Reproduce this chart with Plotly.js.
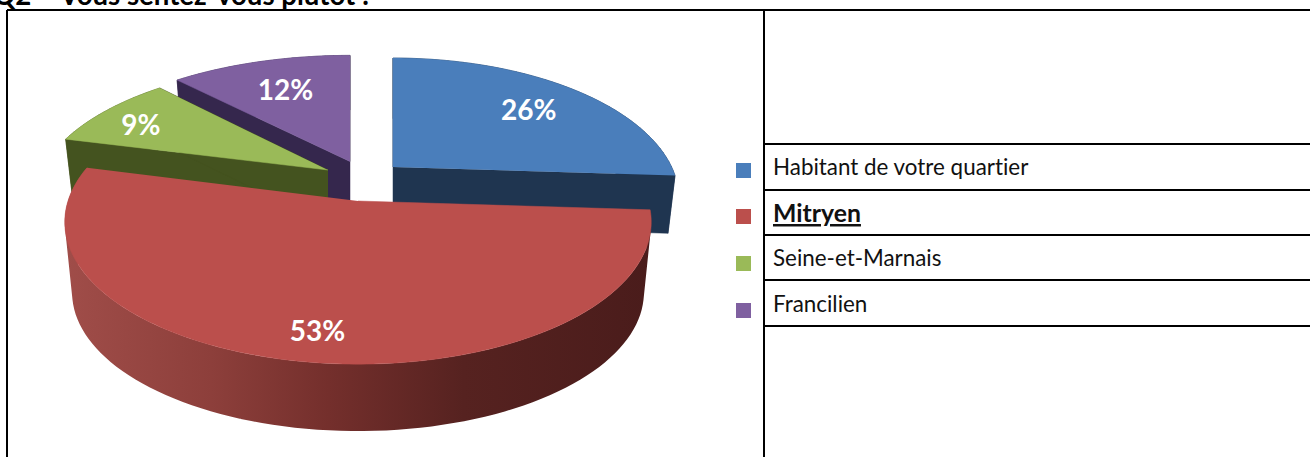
<!DOCTYPE html>
<html><head><meta charset="utf-8">
<script src="https://cdn.plot.ly/plotly-3.0.1.min.js"></script>
<style>html,body{margin:0;padding:0;background:#fff;overflow:hidden}
text{font-variant-ligatures:none;font-feature-settings:"liga" 0,"clig" 0}</style>
</head><body><div id="chart" style="width:1310px;height:457px"></div>
<script>
const categories = ['Habitant de votre quartier', 'Mitryen', 'Seine-et-Marnais', 'Francilien'];
const values = [26, 53, 9, 12];
const percentLabels = ['26%', '53%', '9%', '12%'];
const topColors = ['#4a7ebb', '#bb4f4c', '#9aba58', '#7f60a0'];
const sideColors = ['#1f3550', '#7a322e', '#44531f', '#35274d'];
const legendText = ['Habitant de votre quartier', '<b><u><span style="font-size:24.8px">Mitryen</span></u></b>', 'Seine-et-Marnais', 'Francilien'];
const drawOrder = [3, 0, 2, 1];

// Projection of each exploded slice: apex, radii, perspective, extrusion, label polar placement
const W = 1310, H = 457;
const proj = [
  {x0:393, y0:167, R:278.6, H:133.5, k:0.225, d:58, s:0.975, lf:0.716, la:48.8},
  {x0:358, y0:201, R:290,   H:139,   k:0.148, d:71, s:0.975, lf:0.83,  la:188.5},
  {x0:328, y0:170, R:286,   H:131,   k:0.225, d:55, s:0.975, lf:0.80,  la:297.6},
  {x0:350, y0:161.5, R:294, H:130,   k:0.225, d:52, s:0.975, lf:0.675, la:338.2}
];
const labelDrop = 3;
const legendY = [170.5, 216.5, 263.5, 310.5];
const legendTextY = [166.5, 212.5, 257, 303];
const rules = [144, 190, 235, 280, 326];

const rad = Math.PI / 180;
function pt(p, deg, f, bottom) {
  const u = Math.sin(deg * rad) * f, v = Math.cos(deg * rad) * f;
  const w = 1 + p.k * v, s = bottom ? p.s : 1;
  return [p.x0 + p.R * s * u / w, p.y0 + (bottom ? p.d : 0) - p.H * s * v / w];
}
function arc(p, a, b) {
  const out = [], n = Math.max(2, Math.ceil(Math.abs(b - a)));
  for (let i = 0; i <= n; i++) out.push(pt(p, a + (b - a) * i / n, 1, false));
  return out;
}
function area(q) {
  let s = 0;
  q.forEach((c, i) => { const d = q[(i + 1) % q.length]; s += c[0] * d[1] - d[0] * c[1]; });
  return s;
}
// Swept outer wall: quads of one winding in a single path, so the outline follows the real envelope
function sweep(p, a, b) {
  const out = [], n = Math.max(2, Math.ceil(Math.abs(b - a) / 2));
  for (let i = 0; i < n; i++) {
    const t0 = a + (b - a) * i / n, t1 = a + (b - a) * (i + 1) / n;
    let q = [pt(p, t0, 1, false), pt(p, t1, 1, false), pt(p, t1, 1, true), pt(p, t0, 1, true)];
    if (area(q) < 0) q = q.reverse();
    out.push(q[0], q[1], q[2], q[3], q[0], [null, null]);
  }
  return out;
}
function poly(points, color, extra) {
  return Object.assign({
    type: 'scatter', x: points.map(q => q[0]), y: points.map(q => q[1]),
    mode: 'lines', fill: 'toself', fillcolor: color,
    line: {color: color, width: 0.5, simplify: false}, hoverinfo: 'skip', showlegend: false
  }, extra || {});
}

const total = values.reduce((a, b) => a + b, 0);
let acc = 0;
const spans = values.map(v => { const a = acc; acc += v / total * 360; return [a, acc]; });

const traces = [];
drawOrder.forEach(i => {
  const p = proj[i], a = spans[i][0], b = spans[i][1];
  const band = sweep(p, a, b);
  if (i === 1) {
    traces.push(poly(band, sideColors[i], {
      mode: 'none',
      fillgradient: {type: 'horizontal', colorscale: [[0, '#a04d49'], [0.25, '#8d3f3b'], [0.45, '#742f2c'], [0.68, '#562220'], [1, '#4a1c1b']]}
    }));
  } else {
    traces.push(poly(band, sideColors[i]));
    [a, b].forEach(e => {
      const c = pt(p, 0, 0, false), t = pt(p, e, 1, false), tb = pt(p, e, 1, true), cb = pt(p, 0, 0, true);
      traces.push(poly([c, t, tb, cb], sideColors[i]));
    });
  }
  traces.push(poly([pt(p, 0, 0, false)].concat(arc(p, a, b)), topColors[i]));
});

// Slice labels
traces.push({
  type: 'scatter', mode: 'text',
  x: proj.map(p => pt(p, p.la, p.lf, false)[0]),
  y: proj.map(p => pt(p, p.la, p.lf, false)[1] + labelDrop),
  text: percentLabels, textposition: 'middle center',
  textfont: {family: 'Lato, sans-serif', size: 28, color: '#ffffff', weight: 700},
  hoverinfo: 'skip', showlegend: false
});
// Legend squares
traces.push({
  type: 'scatter', mode: 'markers',
  x: categories.map(() => 743.5), y: legendY,
  marker: {symbol: 'square', size: 15, color: topColors, line: {width: 0}},
  hoverinfo: 'skip', showlegend: false
});

const lineStyle = {color: '#000000', width: 2};
const shapes = [
  {type:'line', xref:'x', yref:'y', x0:7, x1:W, y0:10, y1:10, line:lineStyle},
  {type:'line', xref:'x', yref:'y', x0:7, x1:7, y0:10, y1:H, line:lineStyle},
  {type:'line', xref:'x', yref:'y', x0:764, x1:764, y0:10, y1:H, line:lineStyle}
].concat(rules.map(y => ({type:'line', xref:'x', yref:'y', x0:764, x1:W, y0:y, y1:y, line:lineStyle})));

const annotations = categories.map((c, i) => ({
  xref:'x', yref:'y', x:771, y:legendTextY[i], xanchor:'left', yanchor:'middle',
  text: legendText[i], showarrow:false, align:'left',
  font:{family:'Lato, sans-serif', size:22.4, color:'#111111'}
}));
annotations.push({
  xref:'paper', yref:'paper', x:0, y:1, xanchor:'left', yanchor:'middle', yshift:6, xshift:-9,
  text:'<b>Q2 – Vous sentez-vous plutôt :</b>', showarrow:false,
  font:{family:'Lato, sans-serif', size:27.6, color:'#000000'}
});

Plotly.newPlot('chart', traces, {
  width: W, height: H, margin: {l:0, r:0, t:0, b:0, pad:0},
  paper_bgcolor:'#ffffff', plot_bgcolor:'#ffffff', showlegend:false,
  xaxis:{range:[0, W], visible:false, fixedrange:true},
  yaxis:{range:[H, 0], visible:false, fixedrange:true},
  shapes, annotations
}, {displayModeBar:false, staticPlot:true});
</script></body></html>
